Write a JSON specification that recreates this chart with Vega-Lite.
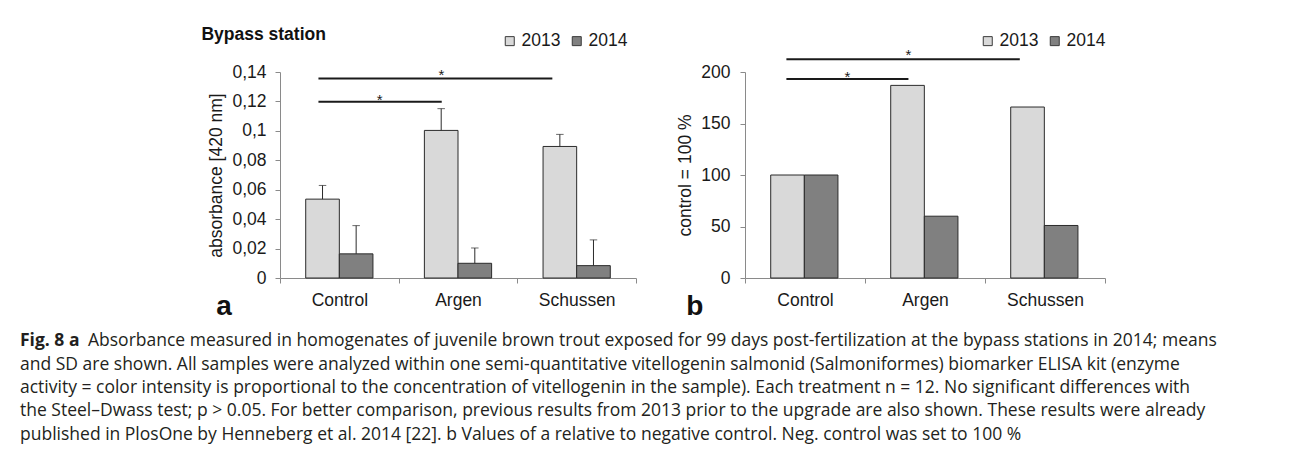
{
  "$schema": "https://vega.github.io/schema/vega-lite/v6.json",
  "background": "white",
  "padding": {"left": 20, "top": 26, "right": 5, "bottom": 5},
  "autosize": {"type": "pad"},
  "bounds": "flush",
  "spacing": 262.5,
  "config": {
    "locale": {"number": {"decimal": ",", "thousands": ".", "grouping": [3], "currency": ["", " €"]}},
    "view": {"stroke": null},
    "font": "Liberation Sans",
    "axis": {
      "domainColor": "#8a8a8a",
      "tickColor": "#8a8a8a",
      "tickSize": 5,
      "domainWidth": 1,
      "tickWidth": 1,
      "grid": false,
      "labelOverlap": false,
      "labelFont": "Liberation Sans",
      "labelFontSize": 17.5,
      "labelColor": "#1a1a1a",
      "titleFont": "Liberation Sans",
      "titleFontSize": 17.5,
      "titleFontWeight": "normal",
      "titleColor": "#1a1a1a"
    },
    "legend": {
      "symbolType": "square",
      "symbolSize": 81,
      "symbolStrokeColor": "#3a3a3a",
      "symbolStrokeWidth": 1,
      "labelFont": "Liberation Sans",
      "labelFontSize": 17.5,
      "labelColor": "#1a1a1a",
      "labelOffset": 3,
      "columnPadding": 7,
      "padding": 0
    }
  },
  "datasets": {
    "absorbance": [
      {"site": "Control", "year": "2013", "value": 0.0536, "upper": 0.0629},
      {"site": "Control", "year": "2014", "value": 0.0164, "upper": 0.0356},
      {"site": "Argen", "year": "2013", "value": 0.1003, "upper": 0.1151},
      {"site": "Argen", "year": "2014", "value": 0.01, "upper": 0.0204},
      {"site": "Schussen", "year": "2013", "value": 0.0894, "upper": 0.0976},
      {"site": "Schussen", "year": "2014", "value": 0.0084, "upper": 0.0259}
    ],
    "relative": [
      {"site": "Control", "year": "2013", "value": 100},
      {"site": "Control", "year": "2014", "value": 100},
      {"site": "Argen", "year": "2013", "value": 187},
      {"site": "Argen", "year": "2014", "value": 60},
      {"site": "Schussen", "year": "2013", "value": 166},
      {"site": "Schussen", "year": "2014", "value": 51}
    ],
    "sigA": [
      {"from": 0.324, "to": 1.363, "level": 0.1197},
      {"from": 0.324, "to": 2.295, "level": 0.1356}
    ],
    "starsA": [
      {"pos": 0.84, "level": 0.1179},
      {"pos": 1.36, "level": 0.1347}
    ],
    "sigB": [
      {"from": 0.345, "to": 1.362, "level": 193.2},
      {"from": 0.345, "to": 2.29, "level": 212.3}
    ],
    "starsB": [
      {"pos": 0.853, "level": 190.3},
      {"pos": 1.362, "level": 211.4}
    ],
    "caption": [
      {"line": 2, "text": "and SD are shown. All samples were analyzed within one semi-quantitative vitellogenin salmonid (Salmoniformes) biomarker ELISA kit (enzyme"},
      {"line": 3, "text": "activity = color intensity is proportional to the concentration of vitellogenin in the sample). Each treatment n = 12. No significant differences with"},
      {"line": 4, "text": "the Steel–Dwass test; p > 0.05. For better comparison, previous results from 2013 prior to the upgrade are also shown. These results were already"},
      {"line": 5, "text": "published in PlosOne by Henneberg et al. 2014 [22]. b Values of a relative to negative control. Neg. control was set to 100 %"}
    ],
    "captionFirst": [
      {"line": 1, "text": "Absorbance measured in homogenates of juvenile brown trout exposed for 99 days post-fertilization at the bypass stations in 2014; means"}
    ],
    "captionBold": [
      {"line": 1, "text": "Fig. 8  a"}
    ]
  },
  "vconcat": [
    {
      "hconcat": [
        {
          "width": 150.3,
          "height": 206,
          "data": {"values": [{}]},
          "mark": {"type": "text"},
          "encoding": {"text": {"value": ""}}
        },
        {
          "width": 356,
          "height": 206,
          "title": {"text": "Bypass station", "anchor": "start", "frame": "group", "align": "left", "fontSize": 17.5, "fontWeight": "bold", "font": "Liberation Sans", "color": "#111111", "offset": 0, "dx": -78.6, "dy": 11.5},
          "layer": [
            {
              "layer": [
                {
                  "data": {"name": "absorbance"},
                  "mark": {"type": "bar", "stroke": "#2b2b2b", "strokeWidth": 1},
                  "encoding": {
                    "x": {"field": "site", "type": "nominal", "sort": ["Control", "Argen", "Schussen"], "scale": {"paddingInner": 0, "paddingOuter": 0},
                          "axis": {"labelAngle": 0, "labelPadding": 8, "tickBand": "extent", "title": "a", "titleFontSize": 28, "titleFontWeight": "bold", "titleColor": "#111111", "titleAlign": "left", "titleBaseline": "alphabetic", "titleAngle": 0, "titleX": -64.3, "titleY": 36}},
                    "xOffset": {"field": "year", "type": "nominal", "scale": {"paddingOuter": 0.765, "paddingInner": 0}},
                    "y": {"field": "value", "type": "quantitative", "scale": {"domain": [0, 0.14], "nice": false},
                          "axis": {"values": [0, 0.02, 0.04, 0.06, 0.08, 0.1, 0.12, 0.14], "tickCount": 8, "format": "~g", "labelPadding": 9, "titlePadding": 6, "title": "absorbance [420 nm]", "labelOverlap": false, "labelFlush": false}},
                    "fill": {"field": "year", "type": "nominal", "scale": {"domain": ["2013", "2014"], "range": ["#d9d9d9", "#808080"]},
                             "legend": {"orient": "none", "legendX": 221, "legendY": -40, "direction": "horizontal", "title": null}}
                  }
                },
                {
                  "data": {"name": "absorbance"},
                  "mark": {"type": "rule", "color": "#2b2b2b", "strokeWidth": 1},
                  "encoding": {
                    "x": {"field": "site", "type": "nominal", "sort": ["Control", "Argen", "Schussen"]},
                    "xOffset": {"field": "year", "type": "nominal"},
                    "y": {"field": "value", "type": "quantitative", "scale": {"domain": [0, 0.14], "nice": false}},
                    "y2": {"field": "upper"}
                  }
                },
                {
                  "data": {"name": "absorbance"},
                  "mark": {"type": "tick", "color": "#2b2b2b", "thickness": 1, "size": 7.5},
                  "encoding": {
                    "x": {"field": "site", "type": "nominal", "sort": ["Control", "Argen", "Schussen"]},
                    "xOffset": {"field": "year", "type": "nominal"},
                    "y": {"field": "upper", "type": "quantitative", "scale": {"domain": [0, 0.14], "nice": false}}
                  }
                }
              ]
            },
            {
              "layer": [
                {
                  "data": {"name": "sigA"},
                  "mark": {"type": "rule", "color": "#1a1a1a", "strokeWidth": 2},
                  "encoding": {
                    "x": {"field": "from", "type": "quantitative", "scale": {"domain": [0, 3], "nice": false, "zero": false}, "axis": null},
                    "x2": {"field": "to"},
                    "y": {"field": "level", "type": "quantitative", "scale": {"domain": [0, 0.14], "nice": false}}
                  }
                },
                {
                  "data": {"name": "starsA"},
                  "mark": {"type": "text", "text": "*", "fontSize": 15, "baseline": "alphabetic", "color": "#1a1a1a"},
                  "encoding": {
                    "x": {"field": "pos", "type": "quantitative"},
                    "y": {"field": "level", "type": "quantitative", "scale": {"domain": [0, 0.14], "nice": false}}
                  }
                }
              ]
            }
          ],
          "resolve": {"scale": {"x": "independent"}}
        },
        {
          "width": 360,
          "height": 206,
          "layer": [
            {
              "data": {"name": "relative"},
              "mark": {"type": "bar", "stroke": "#2b2b2b", "strokeWidth": 1},
              "encoding": {
                "x": {"field": "site", "type": "nominal", "sort": ["Control", "Argen", "Schussen"], "scale": {"paddingInner": 0, "paddingOuter": 0},
                      "axis": {"labelAngle": 0, "labelPadding": 8, "tickBand": "extent", "title": "b", "titleFontSize": 28, "titleFontWeight": "bold", "titleColor": "#111111", "titleAlign": "left", "titleBaseline": "alphabetic", "titleAngle": 0, "titleX": -59.3, "titleY": 36}},
                "xOffset": {"field": "year", "type": "nominal", "scale": {"paddingOuter": 0.765, "paddingInner": 0}},
                "y": {"field": "value", "type": "quantitative", "scale": {"domain": [0, 200], "nice": false},
                      "axis": {"values": [0, 50, 100, 150, 200], "tickCount": 5, "labelPadding": 10, "titlePadding": 6, "title": "control = 100 %", "labelOverlap": false, "labelFlush": false}},
                "fill": {"field": "year", "type": "nominal", "scale": {"domain": ["2013", "2014"], "range": ["#d9d9d9", "#808080"]},
                         "legend": {"orient": "none", "legendX": 234, "legendY": -40, "direction": "horizontal", "title": null}}
              }
            },
            {
              "layer": [
                {
                  "data": {"name": "sigB"},
                  "mark": {"type": "rule", "color": "#1a1a1a", "strokeWidth": 2},
                  "encoding": {
                    "x": {"field": "from", "type": "quantitative", "scale": {"domain": [0, 3], "nice": false, "zero": false}, "axis": null},
                    "x2": {"field": "to"},
                    "y": {"field": "level", "type": "quantitative", "scale": {"domain": [0, 200], "nice": false}}
                  }
                },
                {
                  "data": {"name": "starsB"},
                  "mark": {"type": "text", "text": "*", "fontSize": 15, "baseline": "alphabetic", "color": "#1a1a1a"},
                  "encoding": {
                    "x": {"field": "pos", "type": "quantitative"},
                    "y": {"field": "level", "type": "quantitative", "scale": {"domain": [0, 200], "nice": false}}
                  }
                }
              ]
            }
          ],
          "resolve": {"scale": {"x": "independent"}}
        }
      ],
      "spacing": 109,
      "bounds": "flush",
      "resolve": {"scale": {"fill": "independent"}, "legend": {"fill": "independent"}}
    },
    {
      "width": 1230,
      "height": 116.7,
      "layer": [
        {
          "data": {"name": "caption"},
          "mark": {"type": "text", "align": "left", "baseline": "alphabetic", "font": "Open Sans", "fontSize": 17.5, "color": "#231f20"},
          "encoding": {
            "x": {"value": 0},
            "y": {"field": "line", "type": "quantitative", "scale": {"domain": [0.5, 5.5], "reverse": true, "nice": false, "zero": false}, "axis": null},
            "text": {"field": "text"}
          }
        },
        {
          "data": {"name": "captionFirst"},
          "mark": {"type": "text", "align": "left", "baseline": "alphabetic", "font": "Open Sans", "fontSize": 17.5, "color": "#231f20", "dx": 68},
          "encoding": {
            "x": {"value": 0},
            "y": {"field": "line", "type": "quantitative"},
            "text": {"field": "text"}
          }
        },
        {
          "data": {"name": "captionBold"},
          "mark": {"type": "text", "align": "left", "baseline": "alphabetic", "font": "Open Sans", "fontSize": 17.5, "fontWeight": "bold", "color": "#231f20"},
          "encoding": {
            "x": {"value": 0},
            "y": {"field": "line", "type": "quantitative"},
            "text": {"field": "text"}
          }
        }
      ]
    }
  ]
}
